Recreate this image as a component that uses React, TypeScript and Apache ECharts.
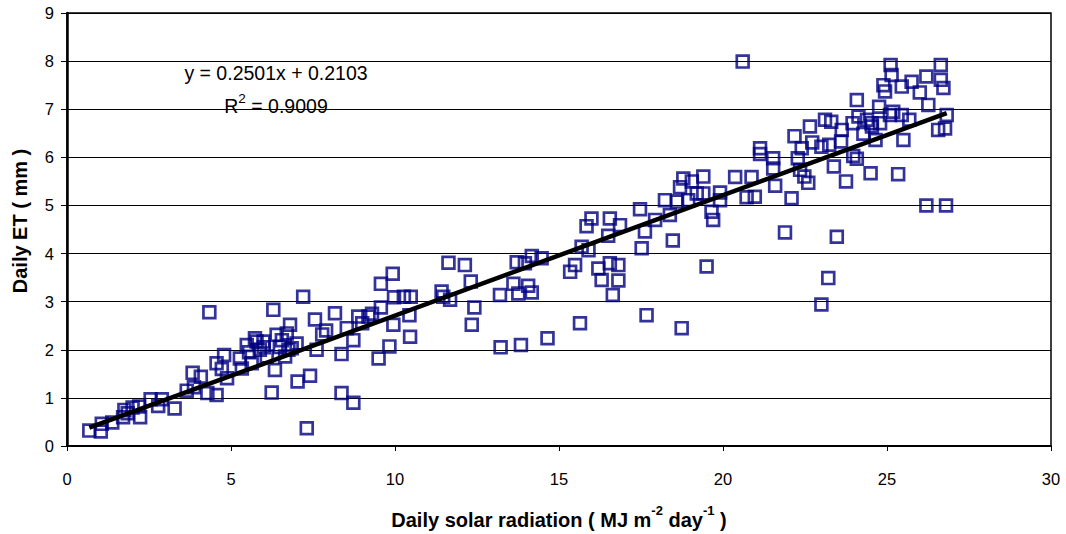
import React, { useEffect, useRef } from "react";
import * as echarts from "echarts";

// Daily solar radiation (MJ m-2 day-1)
const solarRadiation = [
  0.68, 1.03, 1.06, 1.38, 1.71, 1.75, 1.85, 2.0, 2.2, 2.23, 2.55, 2.78, 2.89, 3.28, 3.65, 3.83, 3.87, 4.08, 4.28, 4.34,
  4.56, 4.56, 4.72, 4.79, 4.88, 5.27, 5.33, 5.48, 5.63, 5.73, 5.78, 5.88, 5.99, 6.09, 6.24, 6.29, 6.34, 6.39, 6.49, 6.65,
  6.7, 6.8, 6.85, 7.0, 7.03, 7.2, 7.31, 7.41, 7.56, 7.61, 7.78, 8.17, 8.37, 8.37, 8.53, 8.73, 8.73, 8.88, 9.19, 9.5,
  9.57, 9.57, 9.83, 9.95, 9.97, 9.93, 10.27, 10.48, 10.44, 10.46, 11.42, 11.47, 11.63, 11.68, 12.13, 12.31, 12.42, 12.34, 13.2, 13.22,
  13.61, 13.71, 13.76, 13.84, 13.96, 14.06, 14.17, 14.17, 14.47, 14.65, 15.34, 15.49, 15.64, 15.69, 15.9, 15.84, 15.99, 16.2, 16.3, 16.5,
  16.55, 16.55, 16.64, 16.81, 16.81, 16.86, 17.47, 17.52, 17.62, 17.67, 17.93, 18.23, 18.38, 18.47, 18.6, 18.69, 18.74, 18.79, 18.94, 19.05,
  19.2, 19.4, 19.4, 19.5, 19.65, 19.7, 19.91, 19.91, 20.37, 20.6, 20.72, 20.87, 20.97, 21.13, 21.13, 21.53, 21.53, 21.59, 21.89, 22.09,
  22.18, 22.28, 22.4, 22.35, 22.48, 22.6, 22.65, 22.72, 23.0, 23.11, 23.21, 23.0, 23.24, 23.3, 23.38, 23.47, 23.62, 23.6, 23.75, 23.95,
  23.97, 24.08, 24.08, 24.13, 24.28, 24.5, 24.53, 24.65, 24.76, 24.94, 24.89, 25.09, 25.19, 25.34, 25.45, 25.5, 25.68, 25.11, 25.14, 25.75,
  26.0, 26.2, 26.26, 26.64, 26.64, 26.72, 26.82, 26.56, 26.77, 26.2, 26.8, 24.39, 24.54, 24.79, 25.45,
  5.55, 6.0, 6.55, 6.75, 7.9, 9.0, 9.3,
];

// Daily ET (mm)
const dailyET = [
  0.32, 0.3, 0.46, 0.49, 0.6, 0.75, 0.68, 0.8, 0.82, 0.6, 0.97, 0.83, 0.97, 0.78, 1.15, 1.52, 1.22, 1.44, 1.1, 2.78,
  1.06, 1.72, 1.6, 1.89, 1.41, 1.82, 1.61, 2.1, 1.72, 2.24, 2.17, 2.0, 2.17, 1.86, 1.11, 2.83, 1.58, 2.31, 2.06, 1.86,
  2.34, 2.52, 2.03, 2.13, 1.34, 3.1, 0.37, 1.46, 2.63, 2.0, 2.32, 2.76, 1.91, 1.1, 2.45, 0.9, 2.2, 2.69, 2.69, 1.82,
  2.88, 3.37, 2.07, 2.52, 3.09, 3.58, 3.1, 3.1, 2.72, 2.27, 3.21, 3.1, 3.81, 3.04, 3.76, 3.42, 2.88, 2.52, 3.14, 2.05,
  3.37, 3.82, 3.17, 2.1, 3.8, 3.33, 3.19, 3.95, 3.9, 2.24, 3.62, 3.76, 2.55, 4.14, 4.07, 4.57, 4.73, 3.69, 3.45, 4.37,
  4.73, 3.8, 3.14, 3.76, 3.44, 4.59, 4.92, 4.11, 4.46, 2.72, 4.7, 5.11, 4.8, 4.27, 5.08, 5.38, 2.45, 5.56, 5.11, 5.5,
  5.25, 5.6, 5.25, 3.73, 4.87, 4.7, 5.27, 5.11, 5.59, 7.99, 5.17, 5.59, 5.18, 6.07, 6.19, 5.98, 5.77, 5.41, 4.44, 5.15,
  6.44, 5.98, 6.19, 5.74, 5.6, 5.47, 6.64, 6.31, 6.22, 6.78, 3.49, 2.94, 6.26, 6.74, 5.81, 4.35, 6.57, 6.33, 5.5, 6.71,
  6.03, 7.19, 5.97, 6.85, 6.49, 5.67, 6.71, 6.36, 7.05, 7.37, 7.5, 6.88, 6.95, 5.65, 7.47, 6.36, 6.78, 7.92, 7.71, 7.57,
  7.35, 7.68, 7.09, 7.92, 7.61, 7.44, 6.88, 6.57, 6.6, 5.0, 5.0, 6.78, 6.64, 6.71, 6.88,
  1.95, 2.05, 2.2, 2.0, 2.4, 2.55, 2.75,
];

// Linear fit reported on the chart
const slope = 0.2501;
const intercept = 0.2103;
const rSquared = 0.9009;

const FONT = "'Liberation Sans', Arial, Helvetica, sans-serif";

export default function App() {
  const ref = useRef<HTMLDivElement>(null);

  useEffect(() => {
    if (!ref.current) return;
    const chart = echarts.init(ref.current, null, { renderer: "svg" });

    const points = solarRadiation.map((x, i) => [x, dailyET[i]]);
    const xMin = Math.min(...solarRadiation);
    const xMax = Math.max(...solarRadiation);
    const trend = [
      [xMin, slope * xMin + intercept],
      [xMax, slope * xMax + intercept],
    ];

    chart.setOption({
      animation: false,
      backgroundColor: "#ffffff",
      grid: {
        left: 67,
        right: 15,
        top: 13,
        bottom: 88,
        show: true,
        borderColor: "#000",
        borderWidth: 1.5,
        backgroundColor: "transparent",
      },
      xAxis: {
        type: "value",
        min: 0,
        max: 30,
        interval: 5,
        axisLine: { show: true, onZero: false, lineStyle: { color: "#000", width: 2 } },
        axisTick: { show: true, inside: false, length: 5, lineStyle: { color: "#000", width: 1 } },
        axisLabel: { color: "#000", fontSize: 16.5, fontFamily: FONT, margin: 24 },
        splitLine: { show: false },
      },
      yAxis: {
        type: "value",
        min: 0,
        max: 9,
        interval: 1,
        axisLine: { show: true, onZero: false, lineStyle: { color: "#000", width: 2.5 } },
        axisTick: { show: true, inside: false, length: 6, lineStyle: { color: "#000", width: 1 } },
        axisLabel: { color: "#000", fontSize: 16.5, fontFamily: FONT, margin: 13 },
        splitLine: { show: true, lineStyle: { color: "#000", width: 1 } },
      },
      series: [
        {
          type: "scatter",
          data: points,
          symbol: "rect",
          symbolSize: 11.8,
          itemStyle: { color: "rgba(0,0,0,0)", borderColor: "#000080", borderWidth: 2.7 },
          z: 2,
        },
        {
          type: "line",
          data: trend,
          symbol: "none",
          lineStyle: { color: "#000", width: 4.5 },
          z: 5,
        },
      ],
      graphic: [
        {
          type: "text",
          x: 276,
          y: 73,
          z: 10,
          style: {
            text: `y = ${slope}x + ${intercept}`,
            fontSize: 19.5,
            fontFamily: FONT,
            fill: "#000",
            align: "center",
            verticalAlign: "middle",
            textAlign: "center",
            textVerticalAlign: "middle",
          },
        },
        {
          type: "text",
          x: 276,
          y: 106,
          z: 10,
          style: {
            text: `{n|R}{s|2}{n| = ${rSquared.toFixed(4)}}`,
            fill: "#000",
            align: "center",
            verticalAlign: "middle",
            textAlign: "center",
            textVerticalAlign: "middle",
            rich: {
              n: { fontSize: 19.5, fontFamily: FONT, lineHeight: 30, fill: "#000" },
              s: { fontSize: 13.5, fontFamily: FONT, lineHeight: 11, verticalAlign: "top", fill: "#000" },
            },
          },
        },
        {
          type: "text",
          x: 559,
          y: 520,
          z: 10,
          style: {
            text: "{b|Daily solar radiation ( MJ m}{s|-2}{b| day}{s|-1}{b| )}",
            fill: "#000",
            align: "center",
            verticalAlign: "middle",
            textAlign: "center",
            textVerticalAlign: "middle",
            rich: {
              b: { fontSize: 20, fontWeight: "bold", fontFamily: FONT, lineHeight: 32, fill: "#000" },
              s: { fontSize: 13, fontWeight: "bold", fontFamily: FONT, lineHeight: 12, verticalAlign: "top", fill: "#000" },
            },
          },
        },
        {
          type: "text",
          x: 20,
          y: 221,
          rotation: Math.PI / 2,
          z: 10,
          style: {
            text: "Daily ET ( mm )",
            fontSize: 20,
            fontWeight: "bold",
            fontFamily: FONT,
            fill: "#000",
            align: "center",
            verticalAlign: "middle",
            textAlign: "center",
            textVerticalAlign: "middle",
          },
        },
      ],
    });

    return () => chart.dispose();
  }, []);

  return (
    <div
      ref={ref}
      style={{ position: "fixed", left: 0, top: 0, width: 1066, height: 534, background: "#fff" }}
    />
  );
}
